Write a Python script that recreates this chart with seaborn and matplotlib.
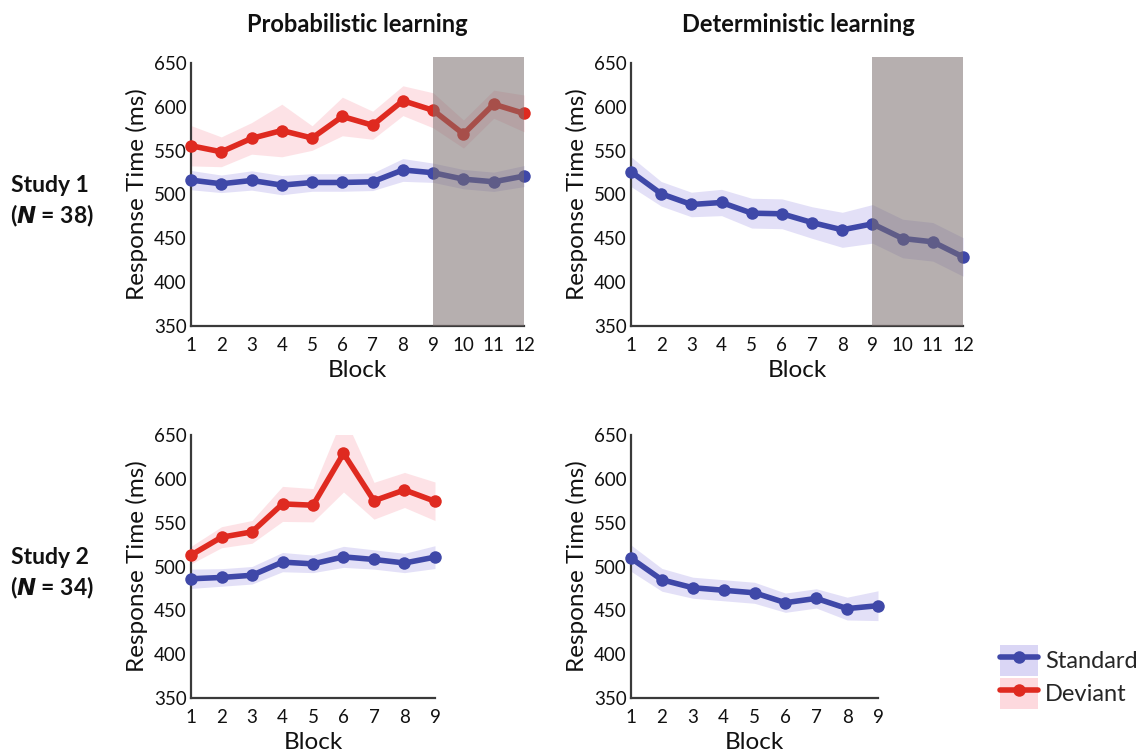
import numpy as np
import pandas as pd
import matplotlib
matplotlib.use("Agg")
import matplotlib.pyplot as plt
from matplotlib.patches import Patch
from matplotlib.lines import Line2D
from matplotlib.legend_handler import HandlerTuple
import seaborn as sns

sns.set_theme(style="white")
plt.rcParams['font.family'] = ['Lato', 'DejaVu Sans']

# ---------------- data ----------------
blocks_s1 = list(range(1, 13))
blocks_s2 = list(range(1, 10))

s1_prob_dev = [555.6, 548.7, 564, 573, 564.4, 589, 579, 607, 596, 569, 603, 592.5]
s1_prob_dev_err = [23, 17, 18, 30, 14, 22, 16, 17, 20, 16, 16, 21]
s1_prob_std = [516.4, 512.2, 516, 510.7, 513.7, 513.7, 514.5, 528, 524.8, 517.5, 514.5, 521]
s1_prob_std_err = [11, 10, 11, 11, 10, 10, 10, 13, 11, 11, 11, 12]

s1_det_std = [526, 500.8, 488.6, 490.9, 478.7, 478, 468, 459.7, 466.5, 449.8, 446, 428.8]
s1_det_std_err = [17, 14, 14, 15, 17, 17, 18, 20, 22, 22, 22, 22]

s2_prob_dev = [513, 533.4, 539.5, 571.4, 569.9, 629, 575, 587.3, 574.4]
s2_prob_dev_err = [10, 12, 13, 20, 19, 44, 21, 20, 22]
s2_prob_std = [486, 487.5, 490, 505, 503, 511, 508, 504, 510.7]
s2_prob_std_err = [11, 10, 10, 11, 10, 12, 11, 11, 13]

s2_det_std = [509.5, 484.8, 475.8, 472.9, 470, 458.7, 463.6, 452, 455.3]
s2_det_std_err = [15, 13, 12, 12, 12, 11, 11, 13, 17]

shade_range = [9, 12]
yticks = [350, 400, 450, 500, 550, 600, 650]
col_titles = ["Probabilistic learning", "Deterministic learning"]
row_labels = ["Study 1", "Study 2"]
row_n = ["38", "34"]
series_names = ["Standard", "Deviant"]

# ---------------- style ----------------
BLUE = "#3F48A8"
RED = "#DF2A20"
BLUE_BAND = "#DAD6F5"
RED_BAND = "#FDD9DE"
SPINE = "#3a3a3a"

fig = plt.figure(figsize=(11.4, 7.54), dpi=100)
W, H = 1140, 754


def make_ax(left, right, top_px, bottom_px):
    return fig.add_axes([left / W, 1 - bottom_px / H, (right - left) / W, (bottom_px - top_px) / H])


def draw_series(ax, x, y, err, color, band):
    y = np.array(y, float)
    err = np.array(err, float)
    ax.fill_between(x, y - err, y + err, color=band, alpha=0.75, lw=0, zorder=1)
    df = pd.DataFrame({"Block": x, "RT": y})
    sns.lineplot(data=df, x="Block", y="RT", ax=ax, color=color, lw=4.0,
                 marker="o", markersize=9, markeredgewidth=0, zorder=3,
                 clip_on=False, errorbar=None)


def style_ax(ax, nblocks, shade=False):
    ax.set_xlim(1, nblocks)
    ax.set_ylim(350, 650)
    ax.set_yticks(yticks)
    ax.set_xticks(range(1, nblocks + 1))
    ax.set_xticklabels([str(i) for i in range(1, nblocks + 1)])
    for s in ["top", "right"]:
        ax.spines[s].set_visible(False)
    for s in ["left", "bottom"]:
        ax.spines[s].set_color(SPINE)
        ax.spines[s].set_linewidth(1.6)
    ax.tick_params(direction="in", length=4, width=1.4, color=SPINE,
                   labelsize=13.5, labelcolor="#111111", pad=3)
    ax.tick_params(axis="x", pad=8)
    ax.set_xlabel("Block", fontsize=17.5, color="#111111", labelpad=4)
    ax.set_ylabel("Response Time (ms)", fontsize=17.5, color="#111111", labelpad=4)
    ax.set_facecolor("white")
    ax.grid(False)
    if shade:
        ax.axvspan(shade_range[0], shade_range[1], ymin=0, ymax=1.022,
                   color="#7a6e6e", alpha=0.55, lw=0, zorder=5, clip_on=False)


# Study 1, probabilistic
ax1 = make_ax(191, 524, 63, 326)
draw_series(ax1, blocks_s1, s1_prob_dev, s1_prob_dev_err, RED, RED_BAND)
draw_series(ax1, blocks_s1, s1_prob_std, s1_prob_std_err, BLUE, BLUE_BAND)
style_ax(ax1, 12, shade=True)

# Study 1, deterministic
ax2 = make_ax(631, 963, 63, 326)
draw_series(ax2, blocks_s1, s1_det_std, s1_det_std_err, BLUE, BLUE_BAND)
style_ax(ax2, 12, shade=True)

# Study 2, probabilistic
ax3 = make_ax(191, 435, 435, 698)
draw_series(ax3, blocks_s2, s2_prob_dev, s2_prob_dev_err, RED, RED_BAND)
draw_series(ax3, blocks_s2, s2_prob_std, s2_prob_std_err, BLUE, BLUE_BAND)
style_ax(ax3, 9)

# Study 2, deterministic
ax4 = make_ax(631, 878, 435, 698)
draw_series(ax4, blocks_s2, s2_det_std, s2_det_std_err, BLUE, BLUE_BAND)
style_ax(ax4, 9)

# column titles
fig.text(357 / W, 1 - 24 / H, col_titles[0], ha="center", va="center",
         fontsize=17, fontweight="bold", color="#111111")
fig.text(798 / W, 1 - 24 / H, col_titles[1], ha="center", va="center",
         fontsize=17, fontweight="bold", color="#111111")

# row labels
for lbl, n, yc in zip(row_labels, row_n, [185, 557]):
    fig.text(50 / W, 1 - yc / H, lbl, ha="center", va="center",
             fontsize=16.5, fontweight="bold", color="#111111")
    fig.text(52 / W, 1 - (yc + 31) / H, r"($\mathbfit{N}$ = " + n + ")", ha="center", va="center",
             fontsize=16.5, fontweight="bold", color="#111111")

# legend
h_std = (Patch(facecolor=BLUE_BAND, edgecolor="none"),
         Line2D([], [], color=BLUE, lw=4.0, marker="o", markersize=9, markeredgewidth=0))
h_dev = (Patch(facecolor=RED_BAND, edgecolor="none"),
         Line2D([], [], color=RED, lw=4.0, marker="o", markersize=9, markeredgewidth=0))
fig.legend([h_std, h_dev], series_names, handler_map={tuple: HandlerTuple(ndivide=1, pad=0)},
           loc="center left", bbox_to_anchor=(1000 / W, 1 - 677 / H), frameon=False,
           fontsize=17, handlelength=1.6, handleheight=1.6, handletextpad=0.3,
           labelspacing=0.1, borderaxespad=0, borderpad=0)

fig.savefig("out.png", dpi=100)
